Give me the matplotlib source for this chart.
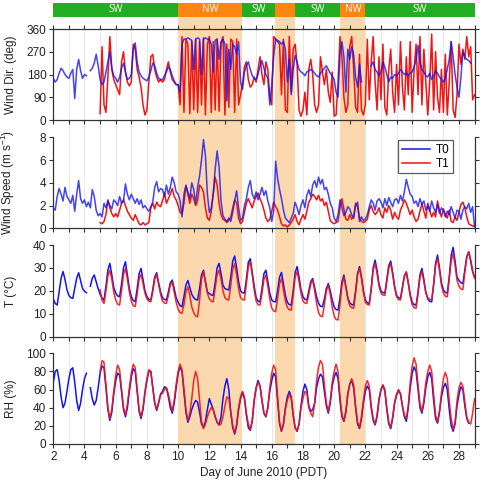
import numpy as np
import matplotlib
matplotlib.use("Agg")
import matplotlib.pyplot as plt

nan = np.nan
STEP = 0.125  # 3-hourly samples, one row per day

# ---- wind direction (deg) ----
wd_t0 = [  # from June 2
    [165, 150, 160, 185, 205, 195, 180, 170],
    [165, 185, 200, 85, 200, 240, 195, 165],
    [180, 175, nan, 195, 205, 225, 260, 215],
    [160, 140, 150, 190, 230, 270, 205, 175],
    [165, 150, 170, 205, 225, 190, 160, 165],
    [180, 280, 305, 230, 190, 175, 165, 160],
    [155, 170, 195, 225, 215, 185, 165, 160],
    [160, 175, 190, 210, 200, 175, 155, 140],
    [140, 110, 300, 320, 320, 325, 320, 315],
    [200, 320, 325, 320, 180, 320, 325, 320],
    [320, 300, 190, 315, 320, 240, 310, 320],
    [300, 75, 280, 200, 300, 290, 260, 310],
    [150, 120, 190, 215, 230, 200, 175, 165],
    [160, 180, 215, 235, 205, 180, 165, 60],
    [140, 250, 320, 315, 310, 300, 310, 280],
    [150, 240, 100, 200, 255, 230, 200, 190],
    [185, 175, 190, 195, 200, 195, 185, 175],
    [170, 185, 195, 205, 215, 200, 185, 175],
    [160, 110, 90, 260, 310, 250, 110, 280],
    [240, 290, 260, 170, 130, 220, 150, nan],
    [110, nan, nan, 215, 230, 200, 190, 175],
    [190, 230, 210, 180, 150, 170, 165, 180],
    [175, 185, 200, 190, 180, 185, 175, 185],
    [190, 210, 240, 295, 230, 200, 190, 175],
    [170, 185, 160, 175, 195, 185, 170, 160],
    [150, 165, 200, 240, 310, 250, 180, 130],
    [90, 170, 270, 250, 240, 235, 225, nan],
    [nan],
]
wd_t1 = [  # from June 5
    [25, 290, 60, 30, 170, 330, 200, 160],
    [140, 120, 100, 230, 270, 190, 150, 135],
    [150, 300, 280, 200, 170, 130, 60, 20],
    [40, 150, 250, 260, 200, 170, 150, 160],
    [150, 160, 200, 230, 190, 160, 150, 140],
    [140, 60, 330, 30, 320, 300, 25, 310],
    [40, 320, 30, 310, 60, 325, 20, 300],
    [330, 30, 310, 40, 320, 35, 300, 330],
    [20, 300, 50, 320, 310, 30, 320, 60],
    [100, 140, 210, 230, 160, 130, 140, 170],
    [150, 200, 250, 180, 140, 230, 200, 90],
    [60, 330, 320, 310, 300, 100, 320, 40],
    [30, 330, 110, 280, 300, 220, 40, 15],
    [40, 110, 20, 200, 240, 180, 60, 30],
    [60, 250, 190, 140, 200, 110, 70, 190],
    [15, 20, 150, 330, 250, 90, 30, 60],
    [290, 330, 200, 50, 30, 260, 40, 20],
    [60, 320, 80, 230, 330, 150, 40, 250],
    [80, 300, 50, 20, 200, 280, 110, 30],
    [220, 60, 310, 130, 40, 250, 100, 310],
    [30, 200, 300, 100, 330, 60, 280, 150],
    [20, 150, 340, 40, 270, 90, 30, 200],
    [30, 260, 20, 150, 310, 40, 10, 100],
    [300, 220, 280, 240, 330, 250, 290, 80],
    [100],
]

# ---- wind speed (m/s) ----
ws_t0 = [
    [1.8, 1.6, 2.8, 3.5, 3.0, 2.4, 3.6, 2.8],
    [2.5, 2.2, 2.9, 1.5, 3.0, 4.2, 2.6, 2.2],
    [2.5, 1.9, 2.3, 1.8, 3.4, 2.8, 1.6, 1.1],
    [1.3, 1.0, 2.2, 1.8, 2.4, 2.0, 1.7, 2.5],
    [2.3, 2.0, 2.8, 2.2, 2.4, 3.9, 3.0, 2.5],
    [3.0, 2.6, 2.2, 2.6, 2.1, 2.5, 1.8, 2.0],
    [1.7, 1.5, 1.9, 2.3, 3.6, 4.1, 3.2, 3.5],
    [3.4, 2.8, 3.8, 3.0, 3.6, 4.5, 4.0, 3.2],
    [3.0, 2.4, 1.0, 3.0, 3.8, 3.2, 2.6, 4.0],
    [3.4, 2.2, 3.6, 4.6, 6.0, 7.8, 6.4, 3.0],
    [1.4, 1.8, 3.0, 5.2, 6.8, 5.4, 2.4, 1.1],
    [0.8, 0.6, 0.9, 0.6, 1.4, 2.4, 3.3, 1.8],
    [0.7, 0.9, 2.0, 2.6, 3.6, 4.2, 3.0, 2.6],
    [3.2, 2.5, 3.0, 3.6, 2.9, 3.3, 2.4, 1.8],
    [0.6, 1.5, 5.9, 4.4, 3.4, 2.6, 1.6, 0.9],
    [0.7, 0.5, 0.9, 1.3, 2.3, 1.8, 1.2, 2.0],
    [2.5, 1.8, 2.9, 3.4, 2.8, 3.8, 4.2, 3.6],
    [4.5, 3.9, 4.3, 3.4, 3.6, 3.0, 2.2, 1.8],
    [0.9, 0.6, 1.2, 2.5, 1.8, 1.1, 1.4, 1.9],
    [1.7, 1.2, 0.9, 2.0, 2.3, 0.6, 1.0, 0.7],
    [0.8, 1.2, 1.9, 2.5, 2.2, 1.6, 2.4, 2.6],
    [2.3, 1.8, 2.6, 2.0, 2.7, 2.3, 1.9, 2.5],
    [2.6, 2.2, 2.9, 2.4, 3.2, 4.3, 3.6, 3.0],
    [2.8, 2.2, 2.4, 1.9, 2.6, 2.1, 2.4, 1.6],
    [2.0, 1.5, 2.4, 1.8, 1.4, 2.1, 1.3, 1.8],
    [1.6, 1.0, 1.5, 1.2, 1.9, 1.4, 0.9, 1.6],
    [1.5, 0.8, 1.6, 1.9, 1.7, 2.2, 1.4, 1.9],
    [0.1],
]
ws_t1 = [
    [0.5, 0.4, 0.6, 1.2, 2.5, 1.8, 1.3, 1.0],
    [1.3, 1.0, 1.6, 2.2, 2.5, 2.0, 1.5, 1.2],
    [0.9, 0.7, 1.2, 0.8, 0.4, 0.3, 0.5, 0.3],
    [0.4, 0.5, 1.8, 2.2, 1.7, 2.3, 2.0, 1.9],
    [2.4, 3.1, 2.2, 2.6, 3.0, 3.5, 2.8, 2.5],
    [2.0, 1.4, 1.3, 2.2, 3.7, 3.0, 2.2, 3.0],
    [2.6, 2.0, 2.4, 3.8, 3.6, 3.2, 1.8, 0.9],
    [0.7, 1.5, 3.0, 4.5, 3.8, 2.2, 1.2, 0.8],
    [0.7, 0.5, 0.7, 1.0, 1.8, 2.5, 2.2, 0.9],
    [0.4, 0.6, 1.4, 2.2, 2.6, 2.2, 1.8, 2.4],
    [2.8, 3.1, 2.6, 2.2, 1.6, 0.9, 0.6, 0.8],
    [1.5, 2.3, 1.9, 1.6, 1.0, 0.4, 0.2, 0.3],
    [0.1, 0.3, 0.5, 0.8, 1.2, 0.6, 0.3, 0.8],
    [1.2, 0.8, 1.5, 2.3, 2.6, 3.0, 2.8, 2.5],
    [2.9, 2.4, 2.6, 2.0, 2.3, 1.5, 0.7, 0.5],
    [0.4, 0.5, 0.6, 1.8, 2.6, 1.7, 0.8, 0.7],
    [1.2, 0.8, 1.0, 2.2, 1.9, 0.9, 0.6, 0.5],
    [0.6, 0.8, 1.6, 2.0, 1.5, 1.2, 1.4, 1.8],
    [1.2, 0.9, 1.8, 1.4, 2.0, 1.6, 0.8, 1.4],
    [1.0, 0.8, 1.6, 2.0, 2.5, 2.2, 1.7, 1.2],
    [1.6, 1.0, 0.6, 0.8, 1.5, 2.2, 1.5, 0.9],
    [2.2, 1.6, 1.0, 1.4, 1.0, 2.4, 1.6, 1.0],
    [1.7, 1.2, 0.9, 1.6, 0.6, 0.5, 1.0, 0.7],
    [1.4, 2.1, 2.3, 1.8, 1.0, 0.4, 0.3, 0.2],
    [0.2],
]

# ---- temperature (degC) ----
t_t0 = [
    [16.5, 14.5, 13.8, 19.5, 25.5, 28.4, 25, 20.5],
    [18.0, 17.0, 16.7, 21, 25.5, 27.9, 24.5, 21],
    [19.8, 19.2, nan, 22, 25.5, 26.9, 24, 21],
    [18.5, 16.8, 16.0, 22, 29, 32, 27, 21.5],
    [19, 17.8, 17.4, 23, 30, 32.7, 27, 21],
    [17.5, 15.8, 15.2, 21, 27.5, 29.8, 25, 20],
    [17.5, 16.3, 16, 20.5, 26, 27.9, 23.5, 19.5],
    [17, 16.2, 16, 19.5, 23.5, 24.7, 21, 17],
    [15, 13.5, 13.1, 17.5, 22.5, 24.5, 21.5, 18.5],
    [17, 16.2, 16, 21, 27, 29, 24, 19.5],
    [18.8, 18.2, 18, 23.5, 30, 32, 27.5, 22.5],
    [21, 20.6, 20.4, 26, 33, 35.2, 30, 24],
    [20, 19.2, 19, 25, 32.5, 34, 28, 22],
    [17, 15.5, 15.2, 21, 27.5, 29, 24, 19],
    [16, 15.3, 15.2, 20, 26, 28, 23, 18],
    [15, 14, 13.8, 20, 28, 30.6, 26, 20.5],
    [17.5, 16.3, 16, 20, 24, 25.4, 21.5, 17.5],
    [14.5, 13.3, 13.1, 16.5, 21, 23.2, 20, 16],
    [13, 11.8, 11.6, 17, 24, 26.9, 22, 17],
    [14.8, 14, 13.8, 20, 27.5, 30.6, 26, 20],
    [16, 14.8, 14.5, 21, 30, 33.4, 29, 23],
    [20, 19.2, 19, 25, 31, 33, 28, 22],
    [18, 17, 16.7, 21.5, 26.5, 28, 23.5, 18.5],
    [15, 14, 13.8, 19.5, 27, 29.8, 25, 19.5],
    [16.5, 15.4, 15.2, 22.5, 32, 35.6, 30, 23.5],
    [20.5, 19.3, 19, 26, 35.5, 39, 33, 26],
    [24.5, 23.5, 23.2, 29, 35, 37, 33, 28.5],
    [26],
]
t_t1 = [
    [20.5, 16, 14.5, 20, 26.5, 29, 25, 19.5],
    [16, 14.2, 13.8, 20, 27, 29.8, 25, 19.5],
    [15.5, 13.5, 13.1, 18.5, 25, 27.2, 23, 19],
    [16.5, 15.5, 15.2, 19.5, 25, 27.2, 23, 18.5],
    [15.5, 14.7, 14.5, 18, 22.5, 23.8, 19.5, 15],
    [12, 10.5, 10.2, 14, 19.5, 21.8, 18, 13],
    [10.5, 9, 8.7, 16, 25, 28.4, 24, 19],
    [16.5, 15.5, 15.2, 21, 27, 29, 25, 20],
    [17, 16.2, 16, 22.5, 29.5, 31.9, 27, 21],
    [17, 16.2, 16, 23, 30.5, 32.7, 27, 20.5],
    [15.5, 14, 13.8, 19, 25, 26.9, 22, 16.5],
    [12.5, 11.2, 10.9, 16.5, 23, 25.4, 20.5, 15.5],
    [12.8, 11.8, 11.6, 18, 26, 28.4, 24, 19],
    [15.5, 14.7, 14.5, 18.5, 23, 24.7, 20, 14.5],
    [10.5, 9, 8.7, 14, 20, 22.5, 18.5, 13],
    [9, 7.5, 7.3, 14, 22.5, 26, 21.5, 16.5],
    [13.5, 12.6, 12.4, 19, 27, 29.8, 25.5, 19.5],
    [15, 14, 13.8, 20.5, 29, 31.9, 27.5, 22],
    [19, 18.2, 18, 24, 30, 31.9, 27, 21.5],
    [17.5, 16.2, 16, 21, 26.5, 28.4, 23.5, 17.5],
    [14, 12.6, 12.4, 18.5, 26, 28.4, 24, 19],
    [17, 16.2, 16, 23, 31, 34.2, 29, 22.5],
    [19, 17.6, 17.4, 25, 33, 36.3, 31, 24.5],
    [22, 20.8, 20.5, 28, 34.5, 37, 33.5, 28.5],
    [25.4],
]

# ---- relative humidity (%) ----
rh_t0 = [
    [68, 80, 82, 70, 52, 40, 45, 58],
    [72, 82, 84, 68, 48, 37, 45, 60],
    [72, 78, nan, 62, 50, 43, 48, 62],
    [78, 86, 84, 62, 38, 26, 35, 55],
    [70, 78, 76, 58, 38, 30, 40, 58],
    [74, 83, 80, 58, 36, 28, 38, 56],
    [70, 80, 80, 62, 45, 37, 45, 55],
    [58, 63, 62, 52, 40, 34, 45, 62],
    [78, 85, 80, 58, 35, 24, 30, 38],
    [44, 48, 46, 35, 22, 18, 25, 38],
    [50, 44, 38, 30, 24, 21, 30, 50],
    [64, 72, 60, 35, 18, 11, 20, 38],
    [50, 57, 50, 32, 18, 15, 25, 48],
    [62, 70, 64, 48, 34, 30, 40, 58],
    [70, 78, 74, 48, 22, 14, 22, 40],
    [52, 58, 52, 32, 18, 14, 22, 42],
    [58, 66, 60, 42, 36, 38, 45, 62],
    [72, 77, 74, 58, 42, 34, 45, 64],
    [74, 79, 72, 48, 30, 25, 35, 55],
    [66, 70, 62, 40, 22, 17, 28, 45],
    [58, 64, 60, 40, 26, 21, 30, 48],
    [60, 65, 58, 38, 22, 17, 28, 45],
    [54, 59, 55, 42, 30, 25, 40, 62],
    [78, 85, 80, 60, 40, 34, 45, 62],
    [74, 79, 72, 48, 28, 23, 35, 52],
    [62, 67, 60, 38, 20, 14, 22, 42],
    [55, 63, 60, 42, 28, 23, nan, nan],
    [nan],
]
rh_t1 = [
    [80, 92, 90, 65, 40, 28, 38, 58],
    [76, 87, 82, 60, 40, 32, 44, 62],
    [78, 88, 84, 60, 38, 30, 40, 58],
    [72, 82, 80, 62, 46, 38, 46, 54],
    [56, 60, 62, 55, 45, 36, 48, 66],
    [80, 88, 82, 60, 38, 26, 34, 50],
    [70, 80, 72, 48, 25, 17, 22, 30],
    [36, 40, 38, 30, 24, 21, 22, 30],
    [42, 52, 50, 35, 20, 12, 22, 40],
    [52, 58, 52, 34, 22, 16, 26, 48],
    [62, 68, 64, 48, 34, 30, 40, 62],
    [78, 87, 82, 52, 24, 15, 22, 38],
    [48, 55, 50, 32, 18, 14, 22, 40],
    [50, 58, 56, 40, 34, 30, 45, 70],
    [85, 92, 88, 65, 45, 36, 48, 68],
    [80, 88, 80, 52, 32, 25, 36, 55],
    [66, 72, 65, 42, 24, 18, 30, 48],
    [64, 70, 64, 42, 28, 22, 32, 50],
    [60, 65, 60, 40, 24, 18, 30, 46],
    [55, 60, 56, 42, 32, 28, 42, 68],
    [86, 95, 88, 66, 44, 36, 48, 68],
    [80, 87, 80, 55, 32, 24, 36, 56],
    [72, 79, 72, 48, 28, 16, 24, 48],
    [62, 68, 64, 46, 30, 24, 22, 34],
    [50],
]

T0_START, T1_START = 2.0, 5.0

# wind regime bar: (start day, end day, label)
regimes = [(2.0, 10.0, "SW"), (10.0, 14.1, "NW"), (14.1, 16.2, "SW"),
           (16.2, 17.5, ""), (17.5, 20.4, "SW"), (20.4, 22.0, "NW"),
           (22.0, 29.0, "SW")]

ylabels = ["Wind Dir. (deg)", "Wind Speed (m s$^{-1}$)", "T (\u00b0C)", "RH (%)"]
ylims = [(0, 360), (0, 8), (0, 40), (0, 100)]
yticks = [[0, 90, 180, 270, 360], [0, 2, 4, 6, 8], [0, 10, 20, 30, 40],
          [0, 20, 40, 60, 80, 100]]


def series(rows, start):
    v = np.array([x for r in rows for x in r], dtype=float)
    return start + STEP * np.arange(len(v)), v


plt.rcParams['font.family'] = ['Liberation Sans', 'DejaVu Sans']
plt.rcParams['mathtext.default'] = 'regular'

BLUE = '#1414f0'
RED = '#f01414'
GREEN = '#22ad22'
ORANGE = '#ff8512'
SPAN = '#fcd8ae'
DARK = '#333333'

fig = plt.figure(figsize=(4.92, 4.90), dpi=100)
L, W = 0.1083, 0.8563
panels = [(0.7551, 0.1857), (0.5341, 0.1857), (0.3129, 0.1871), (0.0939, 0.1851)]

# background: day grid and shaded NW periods, running through all panels
bg = fig.add_axes([L, 0.0939, W, 0.9653 - 0.0939], zorder=0)
bg.set_xlim(2, 29)
bg.set_ylim(0, 1)
bg.axis('off')
for d in range(3, 29):
    bg.axvline(d, color='#e4e4e4', lw=0.6, ymax=0.97, zorder=1)
for a, b, lab in regimes:
    if lab != "SW":
        bg.axvspan(a, b, color=SPAN, lw=0, zorder=2)

# top regime bar
top = fig.add_axes([L, 0.9653, W, 0.0286])
top.set_xlim(2, 29)
top.set_ylim(0, 1)
top.axis('off')
for a, b, lab in regimes:
    top.barh(0.5, b - a, left=a, height=1, color=ORANGE if lab != "SW" else GREEN, lw=0)
    if lab:
        top.text((a + b) / 2, 0.5, lab, color='white', ha='center', va='center',
                 fontsize=7, family=['Open Sans', 'DejaVu Sans'])

data = [(wd_t0, wd_t1), (ws_t0, ws_t1), (t_t0, t_t1), (rh_t0, rh_t1)]
axes = []
for i, ((b, h), (s0, s1)) in enumerate(zip(panels, data)):
    ax = fig.add_axes([L, b, W, h], zorder=2)
    ax.patch.set_visible(False)
    x0, y0 = series(s0, T0_START)
    x1, y1 = series(s1, T1_START)
    if i < 2:
        ax.plot(x1, y1, color=RED, lw=1.1, label='T1', zorder=2)
        ax.plot(x0, y0, color=BLUE, lw=1.1, alpha=0.8, label='T0', zorder=3)
    else:
        ax.plot(x0, y0, color=BLUE, lw=1.1, label='T0', zorder=2)
        ax.plot(x1, y1, color=RED, lw=1.1, alpha=0.9, label='T1', zorder=3)
    ax.set_xlim(2, 29)
    ax.set_ylim(*ylims[i])
    ax.set_yticks(yticks[i])
    ax.set_xticks(range(2, 29, 2))
    ax.set_xticks(range(3, 30, 2), minor=True)
    for side in ['left', 'right', 'bottom', 'top']:
        ax.spines[side].set_color(DARK)
        ax.spines[side].set_linewidth(0.9)
    ax.spines['top'].set_visible(i == 0)
    ax.tick_params(which='both', direction='out', length=3, width=0.8, color=DARK,
                   right=True, top=(i == 0), labelsize=8.5, labelcolor='#222222',
                   labelbottom=(i == 3), pad=2)
    ax.set_ylabel(ylabels[i], fontsize=8.5, color='#222222')
    ax.yaxis.set_label_coords(-0.085, 0.5)
    axes.append(ax)

axes[3].set_xlabel("Day of June 2010 (PDT)", fontsize=8.5, color='#222222', labelpad=3)

h, lab = axes[1].get_legend_handles_labels()
leg = axes[1].legend(h[::-1], lab[::-1], loc='upper right', bbox_to_anchor=(0.963, 1.03),
                     fontsize=8.5, frameon=True, fancybox=False, edgecolor=DARK,
                     handlelength=2.4, borderpad=0.3, labelspacing=0.15, handletextpad=0.5)
leg.get_frame().set_linewidth(0.9)
for ln in leg.get_lines():
    ln.set_alpha(1)

fig.savefig("out.png", dpi=100)
